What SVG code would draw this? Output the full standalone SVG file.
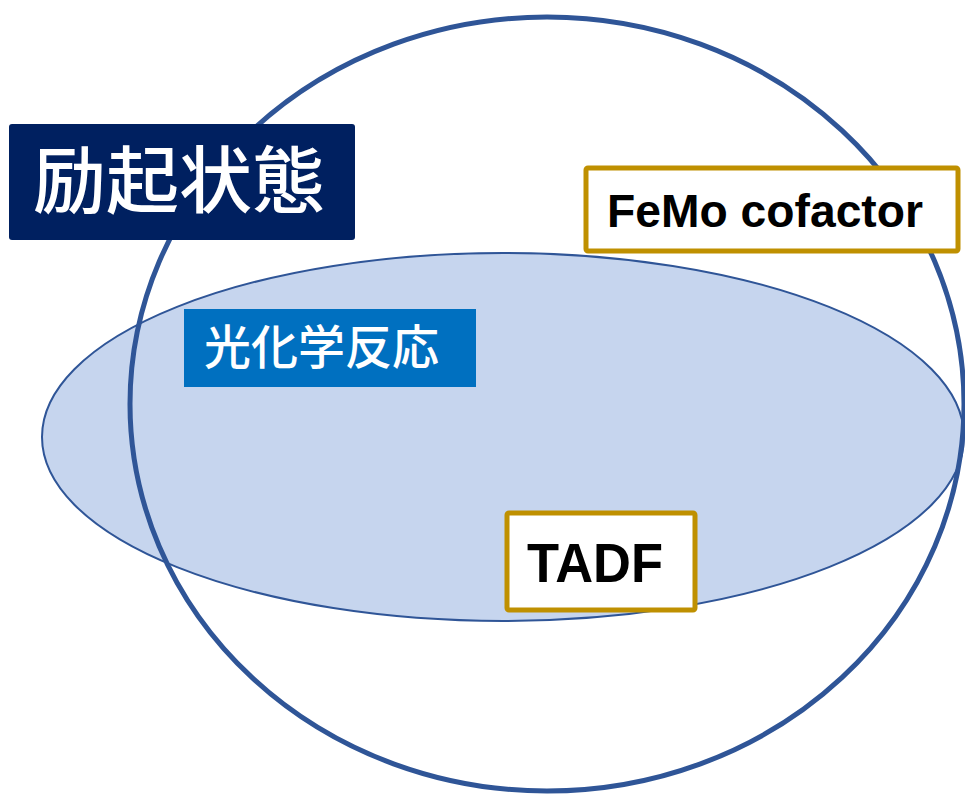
<svg xmlns="http://www.w3.org/2000/svg" width="965" height="794" viewBox="0 0 965 794">
<style>
.jp{font-family:"Noto Sans CJK JP","Noto Sans CJK SC",sans-serif;fill:#fff;font-weight:500}
.en{font-family:"Liberation Sans",Arial,sans-serif;font-weight:bold;fill:#000}
.gold{fill:#fff;stroke:#BF9000;stroke-width:5}
</style>
<rect width="965" height="794" fill="#fff"/>
<g id="photochem-set">
<ellipse cx="503" cy="437" rx="461" ry="184" fill="#C6D5EE" stroke="#2F5597" stroke-width="2"/>
</g>
<g id="excited-set">
<ellipse cx="547" cy="404" rx="417" ry="387" fill="none" stroke="#2F5597" stroke-width="5"/>
</g>
<g id="excited-label">
<rect x="9" y="124" width="346" height="116" rx="3" fill="#002060"/>
<text class="jp" x="179" y="207" font-size="73" text-anchor="middle">励起状態</text>
</g>
<g id="photochem-label">
<rect x="184" y="309" width="292" height="78" fill="#0070C0"/>
<text class="jp" x="204" y="364" font-size="47">光化学反応</text>
</g>
<g id="femo">
<rect class="gold" x="586" y="168" width="372" height="83" rx="2"/>
<text class="en" x="607" y="227" font-size="46" textLength="316" lengthAdjust="spacingAndGlyphs">FeMo cofactor</text>
</g>
<g id="tadf">
<rect class="gold" x="507" y="513" width="188" height="97" rx="2"/>
<text class="en" x="527" y="582" font-size="55" textLength="136" lengthAdjust="spacingAndGlyphs">TADF</text>
</g>
<g id="connectors"></g>
</svg>
